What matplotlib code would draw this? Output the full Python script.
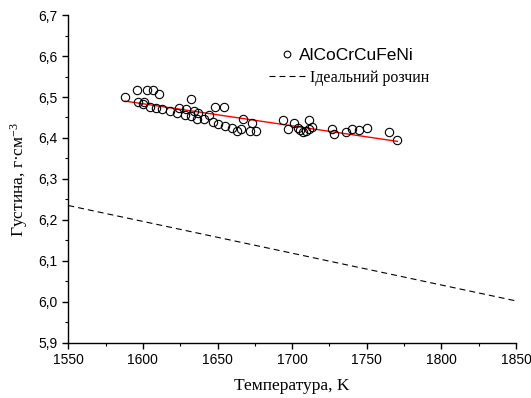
import numpy as np
import matplotlib
matplotlib.use("Agg")
import matplotlib.pyplot as plt
from matplotlib.ticker import MultipleLocator, FuncFormatter

# Data
temp_K = [1588, 1596, 1603, 1607, 1611, 1596.5, 1601, 1600, 1605, 1609, 1613,
          1618, 1623, 1624, 1628, 1629, 1632, 1632, 1634, 1637, 1636.5, 1641,
          1644, 1648, 1654, 1647, 1650, 1655, 1660, 1663, 1666, 1667, 1672,
          1673, 1676, 1694, 1697, 1701, 1704, 1705, 1707, 1709, 1711, 1711,
          1713, 1727, 1728, 1736, 1740, 1745, 1750, 1765, 1770.5]
density = [6.499, 6.518, 6.516, 6.516, 6.508, 6.488, 6.489, 6.482, 6.476,
           6.474, 6.470, 6.466, 6.460, 6.474, 6.457, 6.470, 6.496, 6.453,
           6.466, 6.460, 6.447, 6.447, 6.457, 6.476, 6.476, 6.438, 6.435,
           6.430, 6.424, 6.418, 6.422, 6.446, 6.418, 6.437, 6.418, 6.444,
           6.423, 6.437, 6.425, 6.419, 6.415, 6.418, 6.423, 6.444, 6.427,
           6.421, 6.410, 6.415, 6.421, 6.419, 6.424, 6.414, 6.395]
ideal_T = [1550, 1850]
ideal_rho = [6.235, 6.002]

series_label = "AlCoCrCuFeNi"
ideal_label = "Ідеальний розчин"
x_label = "Температура, K"
y_label = "Густина, г·см$^{-3}$"

plt.rcParams['mathtext.fontset'] = 'custom'
plt.rcParams['mathtext.rm'] = 'Liberation Serif'
plt.rcParams['mathtext.it'] = 'Liberation Serif:italic'

fig = plt.figure(figsize=(5.31, 3.98), dpi=100)
ax = fig.add_axes([0.1286, 0.139, 0.8432, 0.823])

T = np.array(temp_K)
rho = np.array(density)
coef = np.polyfit(T, rho, 1)
t_fit = np.array([T.min(), T.max()])

pts, = ax.plot(T, rho, linestyle='none', marker='o', markersize=6.0, markerfacecolor='none',
               markeredgecolor='black', markeredgewidth=0.8, label=series_label, zorder=3)
ax.plot(t_fit, np.polyval(coef, t_fit), color='red', linewidth=1.0, zorder=2)
ideal, = ax.plot(ideal_T, ideal_rho, color='black', linewidth=0.8, linestyle=(0, (5.4, 3.6)),
                 label=ideal_label)

ax.set_xlim(1550, 1850)
ax.set_ylim(5.9, 6.7)
ax.xaxis.set_major_locator(MultipleLocator(50))
ax.xaxis.set_minor_locator(MultipleLocator(25))
ax.yaxis.set_major_locator(MultipleLocator(0.1))
ax.yaxis.set_minor_locator(MultipleLocator(0.05))
ax.yaxis.set_major_formatter(FuncFormatter(lambda v, p: f"{v:.1f}".replace('.', ',')))
ax.xaxis.set_major_formatter(FuncFormatter(lambda v, p: f"{v:.0f}"))

for s in ['top', 'right']:
    ax.spines[s].set_visible(False)
for s in ['left', 'bottom']:
    ax.spines[s].set_linewidth(1.0)
ax.tick_params(which='major', direction='out', length=4, width=1.0,
               labelsize=10)
ax.tick_params(which='minor', direction='out', length=2.5, width=0.8)
for lab in ax.get_xticklabels() + ax.get_yticklabels():
    lab.set_fontfamily('Liberation Sans')

ax.set_xlabel(x_label, fontfamily='Liberation Serif', fontsize=12.5, labelpad=8)
ax.set_ylabel(y_label, fontfamily='Liberation Serif', fontsize=12.5, labelpad=6)

leg1 = ax.legend(handles=[pts], loc='center left', bbox_to_anchor=(278.3 / 531, 0.860),
                 bbox_transform=fig.transFigure, frameon=False, fontsize=12.5,
                 handlelength=1.0, handletextpad=0.19, borderpad=0, borderaxespad=0,
                 markerscale=0.8, prop={'family': 'Liberation Sans', 'size': 12.5})
ax.add_artist(leg1)
leg2 = ax.legend(handles=[ideal], loc='center left', bbox_to_anchor=(269.3 / 531, 0.805),
                 bbox_transform=fig.transFigure, frameon=False,
                 handlelength=2.4, handletextpad=0.17, borderpad=0, borderaxespad=0,
                 prop={'family': 'Liberation Serif', 'size': 11.4})

fig.savefig('out.png', dpi=100)
